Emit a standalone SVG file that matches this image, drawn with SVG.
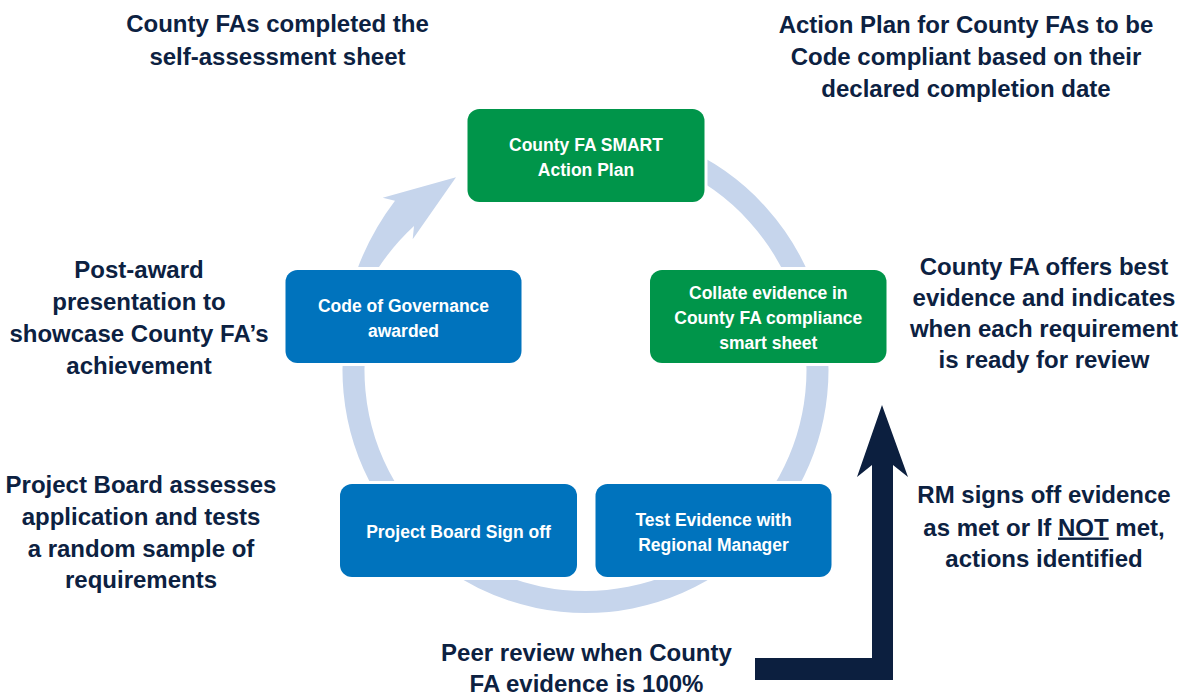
<svg xmlns="http://www.w3.org/2000/svg" width="1191" height="696" viewBox="0 0 1191 696">
  <style>
    .note { font-family: "Liberation Sans", Arial, sans-serif; font-weight: 700; font-size: 24px; fill: #0c2141; text-anchor: middle; }
    .label { font-family: "Liberation Sans", Arial, sans-serif; font-weight: 700; font-size: 17.5px; fill: #ffffff; text-anchor: middle; }
    .box { stroke: #ffffff; stroke-width: 6; paint-order: stroke; }
    .green { fill: #00954a; }
    .blue { fill: #0073bd; }
    .ring { fill: none; stroke: #c6d5ec; stroke-width: 22; }
  </style>

  <rect width="1191" height="696" fill="#ffffff"/>

  <!-- cycle ring and its arrowhead -->
  <g id="connectors">
    <path class="ring" d="M 585.5 138 A 232 232 0 1 1 364.3 300"/>
    <path fill="#c6d5ec" d="M 349 290 L 357 270 Q 370.7 232.6 395 200.7 L 382.7 197.7 L 456 177.3 L 412.7 239.3 L 414 226 Q 392.4 246 377 270 L 370 290 Z"/>
    <!-- peer review return arrow -->
    <polygon fill="#0c1f3f" points="755,658 872,658 872,465 857,477 882,405 908,477 893,465 893,680 755,680"/>
  </g>

  <g id="node-action-plan">
    <rect class="box green" x="467.5" y="109" width="237" height="93" rx="12"/>
    <text class="label" x="586" y="151">County FA SMART</text>
    <text class="label" x="586" y="176">Action Plan</text>
  </g>

  <g id="node-collate">
    <rect class="box green" x="650" y="270" width="236.5" height="93" rx="12"/>
    <text class="label" x="768.3" y="299">Collate evidence in</text>
    <text class="label" x="768.3" y="324">County FA compliance</text>
    <text class="label" x="768.3" y="349">smart sheet</text>
  </g>

  <g id="node-test-evidence">
    <rect class="box blue" x="595.5" y="484" width="236" height="93" rx="12"/>
    <text class="label" x="713.5" y="526">Test Evidence with</text>
    <text class="label" x="713.5" y="551">Regional Manager</text>
  </g>

  <g id="node-board-signoff">
    <rect class="box blue" x="340" y="484" width="237" height="93" rx="12"/>
    <text class="label" x="458.5" y="538">Project Board Sign off</text>
  </g>

  <g id="node-governance">
    <rect class="box blue" x="285.5" y="270" width="236" height="93" rx="12"/>
    <text class="label" x="403.5" y="311.5">Code of Governance</text>
    <text class="label" x="403.5" y="336.5">awarded</text>
  </g>

  <!-- annotations around the cycle -->
  <g id="note-self-assessment">
    <text class="note" x="277.5" y="32">County FAs completed the</text>
    <text class="note" x="277.5" y="65">self-assessment sheet</text>
  </g>

  <g id="note-action-plan">
    <text class="note" x="966" y="33">Action Plan for County FAs to be</text>
    <text class="note" x="966" y="65">Code compliant based on their</text>
    <text class="note" x="966" y="97">declared completion date</text>
  </g>

  <g id="note-post-award">
    <text class="note" x="139" y="278">Post-award</text>
    <text class="note" x="139" y="310">presentation to</text>
    <text class="note" x="139" y="342">showcase County FA’s</text>
    <text class="note" x="139" y="374">achievement</text>
  </g>

  <g id="note-best-evidence">
    <text class="note" x="1044" y="275">County FA offers best</text>
    <text class="note" x="1044" y="306">evidence and indicates</text>
    <text class="note" x="1044" y="337">when each requirement</text>
    <text class="note" x="1044" y="368">is ready for review</text>
  </g>

  <g id="note-project-board">
    <text class="note" x="141" y="493">Project Board assesses</text>
    <text class="note" x="141" y="525">application and tests</text>
    <text class="note" x="141" y="557">a random sample of</text>
    <text class="note" x="141" y="588">requirements</text>
  </g>

  <g id="note-rm-signoff">
    <text class="note" x="1044" y="503">RM signs off evidence</text>
    <text class="note" x="1044" y="535.5">as met or If <tspan text-decoration="underline">NOT</tspan> met,</text>
    <text class="note" x="1044" y="567">actions identified</text>
  </g>

  <g id="note-peer-review">
    <text class="note" x="586.5" y="661">Peer review when County</text>
    <text class="note" x="586.5" y="692">FA evidence is 100%</text>
  </g>
</svg>
